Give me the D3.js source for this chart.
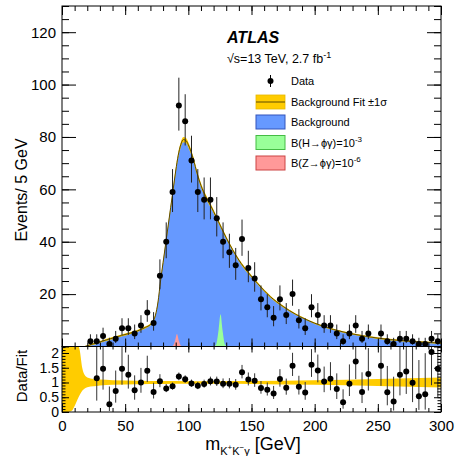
<!DOCTYPE html>
<html>
<head>
<meta charset="utf-8">
<script src="https://cdn.jsdelivr.net/npm/d3@7"></script>
<style>
html,body{margin:0;padding:0;background:#fff;}
svg{display:block;}
text{font-family:"Liberation Sans",Arial,Helvetica,sans-serif;}
</style>
</head>
<body>
<svg id="chart" width="456" height="456"></svg>
<script>
// ---------------- data ----------------
const massCenters = [22.5,27.5,32.5,37.5,42.5,47.5,52.5,57.5,62.5,67.5,72.5,77.5,82.5,87.5,92.5,97.5,102.5,107.5,112.5,117.5,122.5,127.5,132.5,137.5,142.5,147.5,152.5,157.5,162.5,167.5,172.5,177.5,182.5,187.5,192.5,197.5,202.5,207.5,212.5,217.5,222.5,227.5,232.5,237.5,242.5,252.5,257.5,262.5,267.5,272.5,277.5,282.5,287.5,292.5,297.5];
const eventCounts = [2,2,4,1,3,7,7,5,8,13,9,27,40,59,92,86,71,59,56,56,49,40,36,31,41,30,26,18,15,11,18,12,20,10,7,15,12,8,8,5,2,5,8,3,5,5,2,1,3,3,2,1,1,3,2];

const ratioCenters = [27.5,32.5,37.5,42.5,47.5,52.5,57.5,62.5,67.5,72.5,77.5,82.5,87.5,92.5,97.5,102.5,107.5,112.5,117.5,122.5,127.5,132.5,137.5,142.5,147.5,152.5,157.5,162.5,167.5,172.5,177.5,182.5,187.5,192.5,197.5,202.5,207.5,212.5,217.5,222.5,227.5,232.5,237.5,242.5,252.5,257.5,262.5,267.5,272.5,277.5,282.5,287.5,292.5,297.5];
const ratioValues = [1.14,1.47,0.26,0.71,1.47,1.26,0.74,1.0,1.40,0.68,1.04,0.80,0.87,1.20,1.11,0.97,0.89,0.95,1.04,1.03,0.96,0.96,0.92,1.35,1.10,1.06,0.81,0.75,0.63,1.12,0.82,1.57,0.86,0.66,1.60,1.41,1.03,1.13,0.78,0.33,0.96,1.71,0.68,1.29,1.57,0.67,0.36,1.26,1.37,0.99,0.53,0.60,2.03,1.47];

const fitMass = [18,22,27,33,40,47,54,60,66,70,72,74,76,78,80,82,84,86,88,90,92,94,96,98,100,104,107,110,114,118,122,126,130,135,140,147,155,165,175,185,200,215,230,250,270,300];
const fitValue = [0,0.6,1.3,2.2,3.2,4.2,5.1,6.0,7.3,8.4,9.6,12,17,25,32,39,46,53,60,67,73,77,79,78.7,77,71.5,66,61.5,57,53.5,49.5,45.5,41.5,37,33,28.5,24,19,15.3,12.3,8.9,6.5,4.8,3.2,2.2,1.3];
const fitError = [0.1,0.3,0.4,0.4,0.4,0.4,0.4,0.4,0.4,0.4,0.4,0.5,0.6,0.7,0.8,0.8,0.9,0.9,1.0,1.0,1.0,1.0,1.0,1.0,1.0,0.9,0.9,0.8,0.8,0.7,0.7,0.6,0.6,0.5,0.5,0.5,0.4,0.4,0.4,0.3,0.3,0.3,0.3,0.3,0.3,0.3];

const zSignalMass = [86,88,89.5,91,92.5,94,96];
const zSignalValue = [0,0.4,2.2,4.8,2.2,0.4,0];
const hSignalMass = [120,122,124,125.5,127,129,131];
const hSignalValue = [0,0.8,6.5,12.3,6.5,0.8,0];

const ratioBandMass = [0,5,8,10,12,14,16,18,20,25,30,40,60,80,100,125,150,200,250,300];
const ratioBandHi = [2.3,2.3,2.3,2.3,2.3,2.1,1.5,1.25,1.17,1.12,1.1,1.08,1.06,1.05,1.045,1.045,1.05,1.08,1.12,1.17];
const ratioBandLo = [0,0,0.05,0.2,0.4,0.58,0.72,0.8,0.84,0.87,0.9,0.92,0.94,0.95,0.955,0.955,0.95,0.92,0.88,0.83];

const mainYTickLabels = [20,40,60,80,100,120];
const ratioYTickLabels = [0,0.5,1,1.5,2];
const massTickLabels = [0,50,100,150,200,250,300];

// ---------------- layout ----------------
const X0 = 62, X1 = 441;
const MT = 6, MB = 346.5;   // main panel
const RT = 346.5, RB = 412; // ratio panel
const FONT = '"Liberation Sans",Arial,Helvetica,sans-serif';

const x = d3.scaleLinear().domain([0,300]).range([X0,X1]);
const yM = d3.scaleLinear().domain([0,130]).range([MB,MT]);
const yR = d3.scaleLinear().domain([0,2.22]).range([RB,RT]);

const svg = d3.select("#chart");
svg.append("rect").attr("width",456).attr("height",456).attr("fill","#fff");

const defs = svg.append("defs");
defs.append("clipPath").attr("id","clipMain").append("rect")
  .attr("x",X0).attr("y",MT).attr("width",X1-X0).attr("height",MB-MT);
defs.append("clipPath").attr("id","clipRatio").append("rect")
  .attr("x",X0).attr("y",RT).attr("width",X1-X0).attr("height",RB-RT);

// Poisson-like (Garwood approx.) error from count
const errUp = n => Math.sqrt(n+0.75)+1;
const errDn = n => n>0 ? Math.sqrt(n-0.25) : 0;

// ---------------- main panel ----------------
const gm = svg.append("g").attr("clip-path","url(#clipMain)");
const fitPts = fitMass.map((m,i)=>({m, v:fitValue[i], e:fitError[i]}));

gm.append("path").datum(fitPts)
  .attr("d", d3.area().curve(d3.curveMonotoneX).x(d=>x(d.m)).y0(yM(0)).y1(d=>yM(d.v)))
  .attr("fill","#6699ff");

const zPts = zSignalMass.map((m,i)=>({m,v:zSignalValue[i]}));
const hPts = hSignalMass.map((m,i)=>({m,v:hSignalValue[i]}));
const sigArea = d3.area().curve(d3.curveMonotoneX).x(d=>x(d.m)).y0(yM(0)).y1(d=>yM(d.v));
gm.append("path").datum(zPts).attr("d",sigArea).attr("fill","#ff9999");
gm.append("path").datum(hPts).attr("d",sigArea).attr("fill","#99ff99");

gm.append("path").datum(fitPts)
  .attr("d", d3.area().curve(d3.curveMonotoneX).x(d=>x(d.m)).y0(d=>yM(Math.max(0,d.v-d.e))).y1(d=>yM(d.v+d.e)))
  .attr("fill","#ffcc00");
gm.append("path").datum(fitPts)
  .attr("d", d3.line().curve(d3.curveMonotoneX).x(d=>x(d.m)).y(d=>yM(d.v)))
  .attr("fill","none").attr("stroke","#5c4a00").attr("stroke-width",1);

const dataPts = massCenters.map((m,i)=>({m,n:eventCounts[i]}));
gm.selectAll("line.err").data(dataPts).join("line")
  .attr("x1",d=>x(d.m)).attr("x2",d=>x(d.m))
  .attr("y1",d=>yM(d.n-errDn(d.n))).attr("y2",d=>yM(d.n+errUp(d.n)))
  .attr("stroke","#222").attr("stroke-width",1);
gm.selectAll("circle.pt").data(dataPts).join("circle")
  .attr("cx",d=>x(d.m)).attr("cy",d=>yM(d.n)).attr("r",3).attr("fill","#000");

// ---------------- ratio panel ----------------
const gr = svg.append("g").attr("clip-path","url(#clipRatio)");
const bandPts = ratioBandMass.map((m,i)=>({m,hi:ratioBandHi[i],lo:ratioBandLo[i]}));
gr.append("path").datum(bandPts)
  .attr("d", d3.area().curve(d3.curveMonotoneX).x(d=>x(d.m)).y0(d=>yR(d.lo)).y1(d=>yR(d.hi)))
  .attr("fill","#ffcc00");

const countByMass = new Map(massCenters.map((m,i)=>[m,eventCounts[i]]));
const ratioPts = ratioCenters.map((m,i)=>{
  const r = ratioValues[i], n = countByMass.get(m);
  return {m, r, up: r*errUp(n)/n, dn: r*errDn(n)/n};
});
gr.selectAll("line.rerr").data(ratioPts).join("line")
  .attr("x1",d=>x(d.m)).attr("x2",d=>x(d.m))
  .attr("y1",d=>yR(d.r-d.dn)).attr("y2",d=>yR(d.r+d.up))
  .attr("stroke","#333").attr("stroke-width",1);
gr.selectAll("circle.rpt").data(ratioPts).join("circle")
  .attr("cx",d=>x(d.m)).attr("cy",d=>yR(d.r)).attr("r",3).attr("fill","#000");

// ---------------- axes ----------------
function ticks(g, axis){ g.call(axis); g.select(".domain").remove(); g.selectAll("line").attr("stroke","#000"); return g; }
const rng = (a,b,s)=>d3.range(0, Math.round((b-a)/s)+1).map(i=>+(a+i*s).toFixed(4));

// main y
ticks(svg.append("g").attr("transform",`translate(${X0},0)`), d3.axisLeft(yM).tickValues(rng(0,130,5)).tickSize(-7).tickFormat(""));
ticks(svg.append("g").attr("transform",`translate(${X1},0)`), d3.axisRight(yM).tickValues(rng(0,130,5)).tickSize(-7).tickFormat(""));
ticks(svg.append("g").attr("transform",`translate(${X1},0)`), d3.axisRight(yM).tickValues(mainYTickLabels).tickSize(-14).tickFormat(""));
const myAx = ticks(svg.append("g").attr("transform",`translate(${X0},0)`), d3.axisLeft(yM).tickValues(mainYTickLabels).tickSize(-14).tickPadding(6).tickFormat(d3.format("d")));
myAx.selectAll("text").attr("font-family",FONT).attr("font-size",15).attr("fill","#000");

// main x (top/bottom of main panel)
ticks(svg.append("g").attr("transform",`translate(0,${MT})`), d3.axisTop(x).tickValues(rng(0,300,10)).tickSize(-5).tickFormat(""));
ticks(svg.append("g").attr("transform",`translate(0,${MT})`), d3.axisTop(x).tickValues(massTickLabels).tickSize(-9).tickFormat(""));
ticks(svg.append("g").attr("transform",`translate(0,${MB})`), d3.axisBottom(x).tickValues(rng(0,300,10)).tickSize(-4).tickFormat(""));
ticks(svg.append("g").attr("transform",`translate(0,${MB})`), d3.axisBottom(x).tickValues(massTickLabels).tickSize(-8).tickFormat(""));

// ratio y
ticks(svg.append("g").attr("transform",`translate(${X0},0)`), d3.axisLeft(yR).tickValues(rng(0,2.2,0.1)).tickSize(-3.5).tickFormat(""));
ticks(svg.append("g").attr("transform",`translate(${X1},0)`), d3.axisRight(yR).tickValues(rng(0,2.2,0.1)).tickSize(-3.5).tickFormat(""));
ticks(svg.append("g").attr("transform",`translate(${X1},0)`), d3.axisRight(yR).tickValues(ratioYTickLabels).tickSize(-7).tickFormat(""));
const ryAx = ticks(svg.append("g").attr("transform",`translate(${X0},0)`), d3.axisLeft(yR).tickValues(ratioYTickLabels).tickSize(-7).tickPadding(3).tickFormat(d=>String(d)));
ryAx.selectAll("text").attr("font-family",FONT).attr("font-size",14).attr("fill","#000");

// ratio x
ticks(svg.append("g").attr("transform",`translate(0,${RT})`), d3.axisTop(x).tickValues(rng(0,300,10)).tickSize(-3).tickFormat(""));
ticks(svg.append("g").attr("transform",`translate(0,${RT})`), d3.axisTop(x).tickValues(massTickLabels).tickSize(-6).tickFormat(""));
ticks(svg.append("g").attr("transform",`translate(0,${RB})`), d3.axisBottom(x).tickValues(rng(0,300,10)).tickSize(-4).tickFormat(""));
const rxAx = ticks(svg.append("g").attr("transform",`translate(0,${RB})`), d3.axisBottom(x).tickValues(massTickLabels).tickSize(-8).tickPadding(8).tickFormat(d3.format("d")));
rxAx.selectAll("text").attr("font-family",FONT).attr("font-size",15).attr("fill","#000");

// frames
svg.append("rect").attr("x",X0).attr("y",MT).attr("width",X1-X0).attr("height",MB-MT).attr("fill","none").attr("stroke","#000").attr("stroke-width",1);
svg.append("rect").attr("x",X0).attr("y",RT).attr("width",X1-X0).attr("height",RB-RT).attr("fill","none").attr("stroke","#000").attr("stroke-width",1);

// axis titles
svg.append("text").attr("transform",`translate(27,190) rotate(-90)`).attr("text-anchor","middle")
  .attr("font-size",16).attr("fill","#000").text("Events/ 5 GeV");
svg.append("text").attr("transform",`translate(27,376) rotate(-90)`).attr("text-anchor","middle")
  .attr("font-size",15).attr("fill","#000").text("Data/Fit");

const xt = svg.append("text").attr("x",253).attr("y",450).attr("text-anchor","middle").attr("font-size",18).attr("fill","#000");
xt.append("tspan").text("m");
xt.append("tspan").attr("font-size",11).attr("dy",5).text("K");
xt.append("tspan").attr("font-size",8).attr("dy",-5).text("+");
xt.append("tspan").attr("font-size",11).attr("dy",5).text("K");
xt.append("tspan").attr("font-size",8).attr("dy",-5).text("\u2212");
xt.append("tspan").attr("font-size",11).attr("dy",5).text("\u03b3");
xt.append("tspan").attr("dy",-5).text(" [GeV]");

// ---------------- labels & legend ----------------
svg.append("text").attr("x",227).attr("y",43).attr("font-size",16).attr("font-weight","bold").attr("font-style","italic").attr("fill","#000").text("ATLAS");
const ecm = svg.append("text").attr("x",227).attr("y",63).attr("font-size",12.5).attr("fill","#000");
ecm.append("tspan").text("\u221As=13 TeV, 2.7 fb");
ecm.append("tspan").attr("font-size",9).attr("dy",-5).text("-1");

const LX = 256, LW = 29, LH = 14, TX = 291;
// data entry
svg.append("line").attr("x1",LX+LW/2).attr("x2",LX+LW/2).attr("y1",75).attr("y2",87).attr("stroke","#000");
svg.append("circle").attr("cx",LX+LW/2).attr("cy",81).attr("r",3).attr("fill","#000");
svg.append("text").attr("x",TX).attr("y",85).attr("font-size",11).attr("fill","#000").text("Data");

// fit entry
svg.append("rect").attr("x",LX).attr("y",95).attr("width",LW).attr("height",LH).attr("fill","#ffcc00").attr("stroke","#e6b800").attr("stroke-width",0.8);
svg.append("line").attr("x1",LX).attr("x2",LX+LW).attr("y1",102).attr("y2",102).attr("stroke","#5c4a00").attr("stroke-width",1);
svg.append("text").attr("x",TX).attr("y",106).attr("font-size",11).attr("fill","#000").text("Background Fit \u00b11\u03c3");

const boxes = [
  {y:115, fill:"#6699ff", stroke:"#3355bb", label:["Background"]},
  {y:135.5, fill:"#99ff99", stroke:"#44bb44", label:["B(H\u2192\u03d5\u03b3)=10","-3"]},
  {y:156, fill:"#ff9999", stroke:"#cc4444", label:["B(Z\u2192\u03d5\u03b3)=10","-6"]}
];
boxes.forEach(b=>{
  svg.append("rect").attr("x",LX).attr("y",b.y).attr("width",LW).attr("height",LH).attr("fill",b.fill).attr("stroke",b.stroke).attr("stroke-width",1);
  const t = svg.append("text").attr("x",TX).attr("y",b.y+11).attr("font-size",11).attr("fill","#000");
  t.append("tspan").text(b.label[0]);
  if (b.label[1]) t.append("tspan").attr("font-size",8).attr("dy",-5).text(b.label[1]);
});
</script>
</body>
</html>
